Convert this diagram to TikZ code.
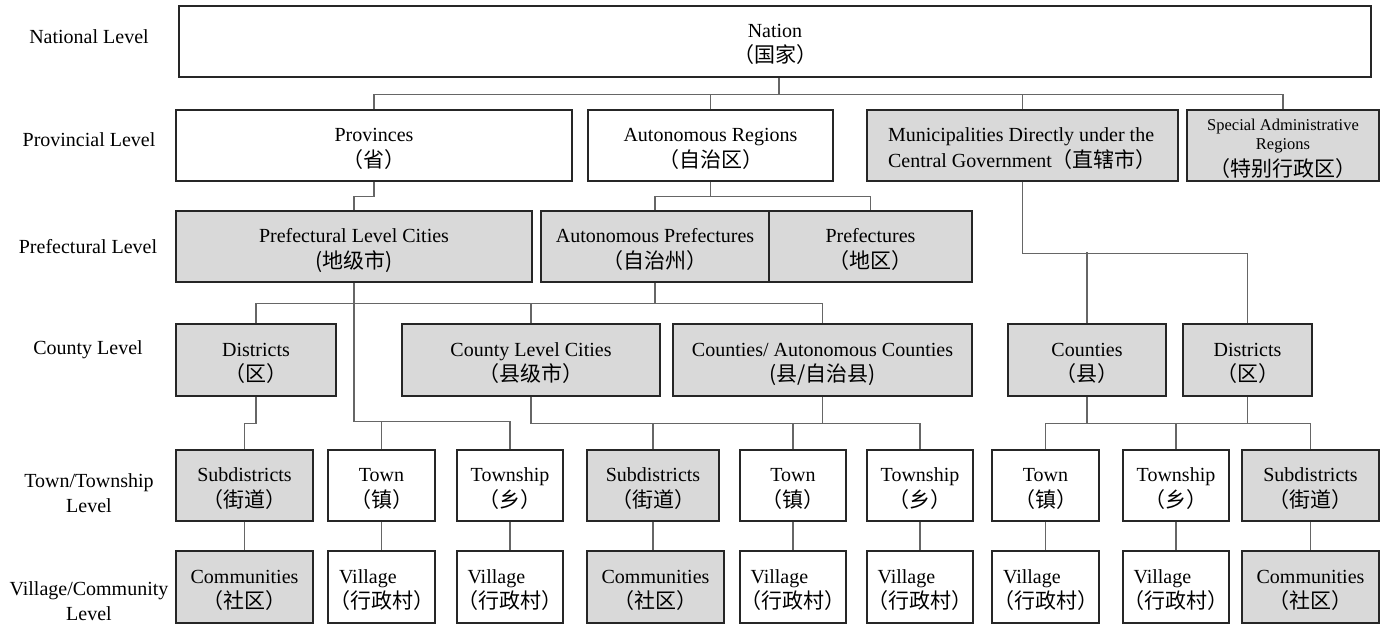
\documentclass[tikz,border=0pt]{standalone}
\usepackage{fontspec}
\setmainfont{Liberation Serif}
\newfontfamily\cjk[Scale=1.05]{Noto Sans CJK SC}
\newcommand{\zh}[1]{{\cjk #1}}
\usetikzlibrary{positioning}

\begin{document}
\begin{tikzpicture}[
x=1pt, y=-1pt,
orgbox/.style={
rectangle,
draw=black!85,
line width=1.7pt,
inner sep=0pt,
align=center,
minimum height=71,
text height=43pt,
text depth=0pt,
font=\fontsize{20}{25.5}\selectfont,
fill=white
},
greybox/.style={
orgbox,
fill=black!15
},
villagebox/.style={
orgbox,
align=left
},
link/.style={
draw=black!60,
line width=1.1pt
},
levelname/.style={
align=center,
font=\fontsize{20}{25}\selectfont
}
]
\useasboundingbox (0,0) rectangle (1381,626);

% Ebenen
\node[levelname] (lvl-nat) at (89,37) {National Level};
\node[levelname] (lvl-prov) at (89,140) {Provincial Level};
\node[levelname] (lvl-pref) at (88,247) {Prefectural Level};
\node[levelname] (lvl-county) at (88,350) {County Level};
\node[levelname] (lvl-town) at (89,493) {Town/Township\\Level};
\node[levelname] (lvl-vill) at (89,601) {Village/Community\\Level};

% Staat und Provinzebene
\node[orgbox, minimum width=1192] (nation) at (775,41.5) {Nation\\\zh{（国家）}};
\node[orgbox, minimum width=396] (prov) at (374,145.5) {Provinces\\\zh{（省）}};
\node[orgbox, minimum width=245] (autreg) at (710.5,145.5) {Autonomous Regions\\\zh{（自治区）}};
\node[greybox, minimum width=311, align=left] (munic) at (1022.5,145.5) {Municipalities Directly under the\\Central Government\zh{（直辖市）}};
\node[greybox, minimum width=192, text height=62pt] (sar) at (1283,145.5) {\fontsize{16.5}{19}\selectfont Special Administrative\\[-7pt]\fontsize{16.5}{19}\selectfont Regions\\[2pt]\fontsize{20}{25.5}\selectfont\zh{（特别行政区）}};

% Praefekturebene
\node[greybox, minimum width=356] (plc) at (354,246.5) {Prefectural Level Cities\\\zh{(地级市)}};
\node[greybox, minimum width=228] (autpref) at (655,246.5) {Autonomous Prefectures\\\zh{（自治州）}};
\node[greybox, minimum width=203] (pref) at (870.5,246.5) {Prefectures\\\zh{（地区）}};

% Kreisebene
\node[greybox, minimum width=160, minimum height=72] (dist) at (256,360) {Districts\\\zh{（区）}};
\node[greybox, minimum width=258, minimum height=72] (clc) at (531,360) {County Level Cities\\\zh{（县级市）}};
\node[greybox, minimum width=299, minimum height=72] (cnty) at (822.5,360) {Counties/ Autonomous Counties\\\zh{(县/自治县)}};
\node[greybox, minimum width=158, minimum height=72] (mun-cnty) at (1087,360) {Counties\\\zh{（县）}};
\node[greybox, minimum width=129, minimum height=72] (mun-dist) at (1247.5,360) {Districts\\\zh{（区）}};

% Gemeindeebene
\node[greybox, minimum width=137] (subd1) at (244.5,485.5) {Subdistricts\\\zh{（街道）}};
\node[orgbox, minimum width=107] (town1) at (381.5,485.5) {Town\\\zh{（镇）}};
\node[orgbox, minimum width=106] (twsp1) at (510,485.5) {Township\\\zh{（乡）}};
\node[greybox, minimum width=132] (subd2) at (653,485.5) {Subdistricts\\\zh{（街道）}};
\node[orgbox, minimum width=106] (town2) at (793,485.5) {Town\\\zh{（镇）}};
\node[orgbox, minimum width=106] (twsp2) at (920,485.5) {Township\\\zh{（乡）}};
\node[orgbox, minimum width=107] (town3) at (1045.5,485.5) {Town\\\zh{（镇）}};
\node[orgbox, minimum width=106] (twsp3) at (1176,485.5) {Township\\\zh{（乡）}};
\node[greybox, minimum width=137] (subd3) at (1310.5,485.5) {Subdistricts\\\zh{（街道）}};

% Dorfebene
\node[greybox, minimum width=137, minimum height=72] (comm1) at (244.5,587) {Communities\\\zh{（社区）}};
\node[villagebox, minimum width=107, minimum height=72] (vill1) at (381.5,587) {\hspace*{10pt}Village\\\zh{（行政村）}};
\node[villagebox, minimum width=106, minimum height=72] (vill2) at (510,587) {\hspace*{10pt}Village\\\zh{（行政村）}};
\node[greybox, minimum width=137, minimum height=72] (comm2) at (655.5,587) {Communities\\\zh{（社区）}};
\node[villagebox, minimum width=106, minimum height=72] (vill3) at (793,587) {\hspace*{10pt}Village\\\zh{（行政村）}};
\node[villagebox, minimum width=106, minimum height=72] (vill4) at (920,587) {\hspace*{10pt}Village\\\zh{（行政村）}};
\node[villagebox, minimum width=107, minimum height=72] (vill5) at (1045.5,587) {\hspace*{10pt}Village\\\zh{（行政村）}};
\node[villagebox, minimum width=106, minimum height=72] (vill6) at (1176,587) {\hspace*{10pt}Village\\\zh{（行政村）}};
\node[greybox, minimum width=137, minimum height=72] (comm3) at (1310.5,587) {Communities\\\zh{（社区）}};

% Verbindungen
\draw[link] (nation.south) ++(4,0) -- ++(0,17) coordinate (bus-nat);
\draw[link] (prov.north) |- (bus-nat) -| (sar.north);
\draw[link] (autreg.north) -- (autreg.north |- bus-nat);
\draw[link] (munic.north) -- (munic.north |- bus-nat);

\draw[link] (prov.south) -- ++(0,15) -| (plc.north);
\draw[link] (autreg.south) -- ++(0,15) coordinate (bus-ar);
\draw[link] (autpref.north) |- (bus-ar) -| (pref.north);

\draw[link] (munic.south) -- ++(0,72) -| (mun-dist.north);
\draw[link] (mun-cnty.north) -- ++(0,-71);

\draw[link] (autpref.south) -- ++(0,21) coordinate (bus-ap);
\draw[link] (dist.north) |- (bus-ap) -| (cnty.north);
\draw[link] (clc.north) -- (clc.north |- bus-ap);

\draw[link] (plc.south) -- ++(0,139) coordinate (bus-plc);
\draw[link] (bus-plc) -| (twsp1.north);
\draw[link] (town1.north) -- (town1.north |- bus-plc);

\draw[link] (dist.south) -- ++(0,27) -| (subd1.north);

\draw[link] (clc.south) -- ++(0,27) coordinate (bus-clc) -| (twsp2.north);
\draw[link] (cnty.south) -- (cnty.south |- bus-clc);
\draw[link] (subd2.north) -- (subd2.north |- bus-clc);
\draw[link] (town2.north) -- (town2.north |- bus-clc);

\draw[link] (mun-cnty.south) -- ++(0,27) coordinate (bus-mc);
\draw[link] (town3.north) |- (bus-mc) -| (subd3.north);
\draw[link] (twsp3.north) -- (twsp3.north |- bus-mc);
\draw[link] (mun-dist.south) -- (mun-dist.south |- bus-mc);

\draw[link] (subd1.south) -- ++(0,14) -| (comm1.north);
\draw[link] (town1.south) -- ++(0,14) -| (vill1.north);
\draw[link] (twsp1.south) -- ++(0,14) -| (vill2.north);
\draw[link] (subd2.south) -- (subd2.south |- comm2.north);
\draw[link] (town2.south) -- ++(0,14) -| (vill3.north);
\draw[link] (twsp2.south) -- ++(0,14) -| (vill4.north);
\draw[link] (town3.south) -- ++(0,14) -| (vill5.north);
\draw[link] (twsp3.south) -- ++(0,14) -| (vill6.north);
\draw[link] (subd3.south) -- ++(0,14) -| (comm3.north);
\end{tikzpicture}
\end{document}
